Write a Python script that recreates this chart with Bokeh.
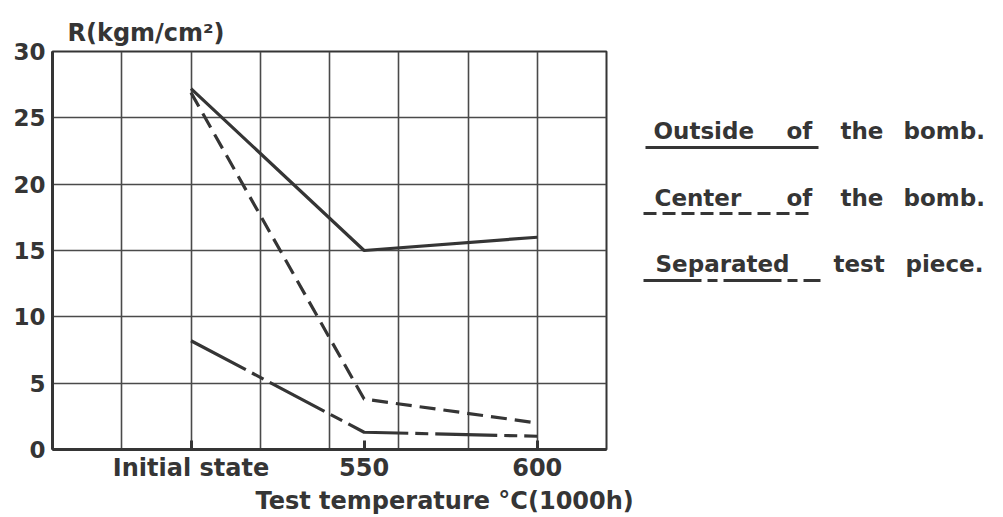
from bokeh.plotting import figure
from bokeh.layouts import row
from bokeh.models import FixedTicker, Label, Range1d, Title
from bokeh.embed import file_html
from bokeh.resources import INLINE

# ---- data ----
x_positions = [500, 550, 600]          # "Initial state" drawn at the 500 position
x_tick_labels = ["Initial state", "550", "600"]
outside = [27.2, 15.0, 16.0]
center = [26.9, 3.8, 2.0]
separated = [8.2, 1.3, 1.0]
y_ticks = [0, 5, 10, 15, 20, 25, 30]
grid_x = [460, 480, 500, 520, 540, 560, 580, 600, 620]
legend_words = [["Outside", "of", "the", "bomb."],
                ["Center", "of", "the", "bomb."],
                ["Separated", "test", "piece."]]
y_title = "R(kgm/cm²)"
x_title = "Test temperature °C(1000h)"

INK = "#353535"
FONT = "DejaVu Sans"

H = 515
W1 = 640
W2 = 345
FT, FB = 51, 449   # frame top / bottom (px)

p = figure(width=W1, height=H, output_backend="svg", toolbar_location=None,
           x_range=Range1d(460, 620), y_range=Range1d(0, 30),
           min_border_left=52, min_border_right=W1 - 606,
           min_border_top=FT, min_border_bottom=H - FB)

p.outline_line_color = INK
p.outline_line_width = 2
p.outline_line_alpha = 1

# grid
p.xgrid.ticker = FixedTicker(ticks=grid_x)
p.ygrid.ticker = FixedTicker(ticks=y_ticks)
for g in (p.xgrid, p.ygrid):
    g.grid_line_color = "#4a4a4a"
    g.grid_line_width = 1.6
    g.grid_line_alpha = 1

# axes
p.xaxis.ticker = FixedTicker(ticks=x_positions)
p.xaxis.major_label_overrides = {x: l for x, l in zip(x_positions, x_tick_labels)}
p.yaxis.ticker = FixedTicker(ticks=y_ticks)
for ax in (p.xaxis, p.yaxis):
    ax.axis_line_color = INK
    ax.axis_line_width = 3
    ax.major_tick_out = 0
    ax.minor_tick_line_color = None
    ax.major_label_text_color = INK
    ax.major_label_text_font = FONT
    ax.major_label_text_font_style = "bold"
p.xaxis.major_tick_in = 9
p.xaxis.major_tick_line_width = 3
p.xaxis.major_tick_line_color = INK
p.yaxis.major_tick_in = 0
p.yaxis.major_tick_line_color = None
p.xaxis.major_label_text_font_size = "24px"
p.yaxis.major_label_text_font_size = "23px"
p.xaxis.major_label_standoff = 4
p.yaxis.major_label_standoff = 7

# data lines
p.line(x_positions, outside, line_color=INK, line_width=3.2)
p.line(x_positions, center, line_color=INK, line_width=3.2, line_dash="16 8")
p.line(x_positions, separated, line_color=INK, line_width=3.2, line_dash="62 7 13 7")

# titles
p.add_layout(Title(text=y_title, align="left", offset=15, standoff=10,
                   text_font=FONT, text_font_size="24px", text_font_style="bold",
                   text_color=INK), "above")
p.add_layout(Title(text=x_title, align="left", offset=203, standoff=0,
                   text_font=FONT, text_font_size="24px", text_font_style="bold",
                   text_color=INK), "below")

# ---- legend panel (frame aligned with main frame; y in page pixels) ----
leg = figure(width=W2, height=H, output_backend="svg", toolbar_location=None,
             x_range=Range1d(0, W2), y_range=Range1d(FB, FT),
             x_axis_type=None, y_axis_type=None,
             min_border_left=0, min_border_right=0,
             min_border_top=FT, min_border_bottom=H - FB)
leg.outline_line_color = None
leg.grid.visible = False

OFF = W1
legend_y = [130, 197, 263]
legend_x = [[653, 786, 840, 903], [654, 786, 840, 903], [655, 833, 905]]
under_y = [147, 213, 280]
under_x = [(645, 818), (643, 812), (643, 820)]
dashes = ["solid", "13 6", "58 6 10 6"]
for words, xs, ly, uy, (ux0, ux1), dsh in zip(legend_words, legend_x, legend_y,
                                              under_y, under_x, dashes):
    for w, px in zip(words, xs):
        leg.add_layout(Label(x=px - OFF, y=ly, text=w, text_font=FONT,
                             text_font_size="23px", text_font_style="bold",
                             text_color=INK, text_align="left",
                             text_baseline="middle"))
    leg.line([ux0 - OFF, ux1 - OFF], [uy, uy], line_color=INK, line_width=3,
             line_dash=dsh)

open("out.html", "w").write(file_html(row(p, leg), INLINE))
